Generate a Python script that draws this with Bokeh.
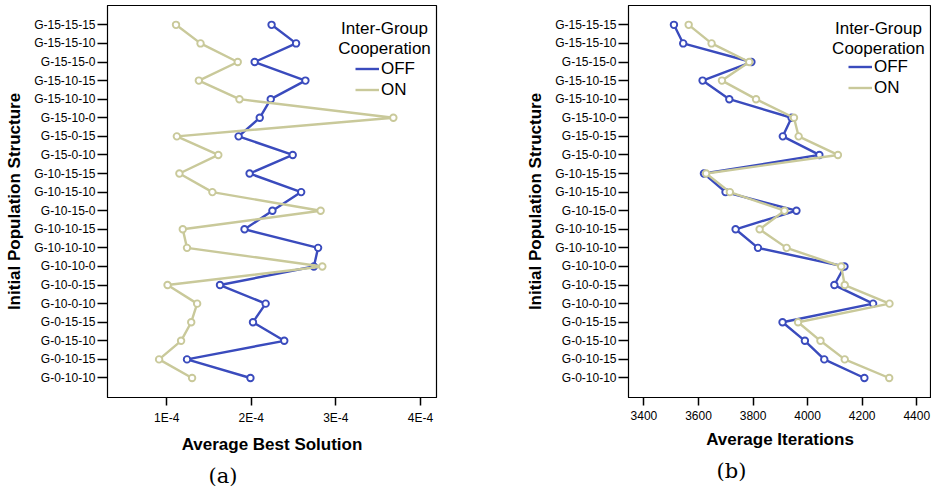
from bokeh.plotting import figure
from bokeh.models import (Range1d, FixedTicker, CustomJSTickFormatter, Legend,
                          LegendItem, Label, Title, ColumnDataSource)
from bokeh.layouts import row
from bokeh.embed import file_html
from bokeh.resources import INLINE

# ---------------- data ----------------
structures = ["G-15-15-15", "G-15-15-10", "G-15-15-0", "G-15-10-15", "G-15-10-10",
              "G-15-10-0", "G-15-0-15", "G-15-0-10", "G-10-15-15", "G-10-15-10",
              "G-10-15-0", "G-10-10-15", "G-10-10-10", "G-10-10-0", "G-10-0-15",
              "G-10-0-10", "G-0-15-15", "G-0-15-10", "G-0-10-15", "G-0-10-10"]

best_off = [2.24e-4, 2.53e-4, 2.04e-4, 2.64e-4, 2.23e-4, 2.10e-4, 1.85e-4, 2.49e-4,
            1.98e-4, 2.59e-4, 2.25e-4, 1.92e-4, 2.79e-4, 2.74e-4, 1.63e-4, 2.17e-4,
            2.02e-4, 2.39e-4, 1.24e-4, 1.99e-4]
best_on = [1.11e-4, 1.40e-4, 1.84e-4, 1.38e-4, 1.86e-4, 3.68e-4, 1.12e-4, 1.61e-4,
           1.15e-4, 1.54e-4, 2.82e-4, 1.19e-4, 1.24e-4, 2.84e-4, 1.01e-4, 1.36e-4,
           1.29e-4, 1.17e-4, 0.91e-4, 1.30e-4]

iter_off = [3510, 3544, 3794, 3615, 3713, 3941, 3909, 4043, 3620, 3699,
            3959, 3736, 3818, 4135, 4098, 4240, 3908, 3990, 4061, 4208]
iter_on = [3564, 3648, 3786, 3686, 3811, 3950, 3967, 4111, 3628, 3715,
           3915, 3824, 3923, 4123, 4136, 4300, 3965, 4047, 4136, 4299]

best_ticks = [1e-4, 2e-4, 3e-4, 4e-4]
iter_ticks = [3400, 3600, 3800, 4000, 4200, 4400]
series_names = ["OFF", "ON"]
legend_title = ["Inter-Group", "Cooperation"]
captions = ["(a)", "(b)"]
x_labels = ["Average Best Solution", "Average Iterations"]
y_label = "Initial Population Structure"

# ---------------- style ----------------
BLUE = "#3a4bbd"
KHAKI = "#c9c99a"
FONT = "Liberation Sans"
n = len(structures)
ypos = [n - 1 - i for i in range(n)]


def make_panel(off_vals, on_vals, xr, ticks, fmt, xlabel, width, mbl, mbr,
               leg_xy, title_x, caption, cap_offset):
    p = figure(width=width, height=496, output_backend="svg", toolbar_location=None,
               x_range=xr, y_range=Range1d(-1.05, 20.04),
               min_border_left=mbl, min_border_right=mbr,
               min_border_top=5, min_border_bottom=99)
    p.background_fill_color = "white"
    p.border_fill_color = "white"
    p.outline_line_color = "black"
    p.outline_line_width = 1.2
    p.grid.visible = False

    src_off = ColumnDataSource(dict(x=off_vals, y=ypos))
    src_on = ColumnDataSource(dict(x=on_vals, y=ypos))
    l_off = p.line("x", "y", source=src_off, color=BLUE, line_width=2.4)
    p.scatter("x", "y", source=src_off, size=6.5, line_color=BLUE, line_width=1.9,
              fill_color="white")
    l_on = p.line("x", "y", source=src_on, color=KHAKI, line_width=2.4)
    p.scatter("x", "y", source=src_on, size=6.5, line_color=KHAKI, line_width=1.9,
              fill_color="white")

    # x axis
    xa = p.xaxis[0]
    xa.ticker = FixedTicker(ticks=ticks)
    if fmt is not None:
        xa.formatter = fmt
    xa.axis_label = xlabel
    xa.axis_label_text_font = FONT
    xa.axis_label_text_font_style = "bold"
    xa.axis_label_text_font_size = "17px"
    xa.axis_label_text_color = "black"
    xa.axis_label_standoff = 7
    xa.major_label_text_font = FONT
    xa.major_label_text_font_size = "12px"
    xa.major_label_text_color = "black"
    xa.major_tick_out = 8
    xa.major_tick_in = 0
    xa.major_tick_line_width = 1.5
    xa.major_tick_line_color = "black"
    xa.minor_tick_line_color = None
    xa.axis_line_color = "black"

    # y axis
    ya = p.yaxis[0]
    ya.ticker = FixedTicker(ticks=list(range(n)))
    ya.major_label_overrides = {ypos[i]: structures[i] for i in range(n)}
    ya.axis_label = y_label
    ya.axis_label_text_font = FONT
    ya.axis_label_text_font_style = "bold"
    ya.axis_label_text_font_size = "17px"
    ya.axis_label_text_color = "black"
    ya.axis_label_standoff = 7
    ya.major_label_text_font = FONT
    ya.major_label_text_font_size = "12px"
    ya.major_label_text_color = "black"
    ya.major_label_standoff = 2
    ya.major_tick_out = 10
    ya.major_tick_in = 0
    ya.major_tick_line_width = 1.5
    ya.major_tick_line_color = "black"
    ya.minor_tick_line_color = None
    ya.axis_line_color = "black"

    # legend
    leg = Legend(items=[LegendItem(label=series_names[0], renderers=[l_off]),
                        LegendItem(label=series_names[1], renderers=[l_on])],
                 location=leg_xy, padding=0, margin=0, spacing=0,
                 glyph_width=24, glyph_height=21, label_height=21,
                 label_standoff=2, label_text_font=FONT, label_text_font_size="17px",
                 label_text_color="black",
                 border_line_color=None, background_fill_alpha=0)
    p.add_layout(leg)
    for txt, yy in zip(legend_title, [18.80, 17.73]):
        p.add_layout(Label(x=title_x, y=yy, text=txt, text_align="center",
                           text_baseline="middle", text_font=FONT,
                           text_font_size="17px", text_color="black"))

    cap = Title(text=caption, align="left", offset=cap_offset,
                text_font="DejaVu Serif", text_font_size="21px",
                text_font_style="normal", text_color="black")
    p.add_layout(cap, "below")
    return p


best_fmt = CustomJSTickFormatter(code="return (tick*1e4).toFixed(0) + 'E-4';")

p1 = make_panel(best_off, best_on, Range1d(0.30e-4, 4.19e-4), best_ticks,
                best_fmt, x_labels[0], 470, 107, 34, (248, 297), 3.575e-4,
                captions[0], 101)
p2 = make_panel(iter_off, iter_on, Range1d(3343.5, 4454), iter_ticks, None,
                x_labels[1], 461, 158, 0, (220, 299), 4259.5, captions[1], 88)

layout = row(p1, p2)
open("out.html", "w").write(file_html(layout, INLINE))
